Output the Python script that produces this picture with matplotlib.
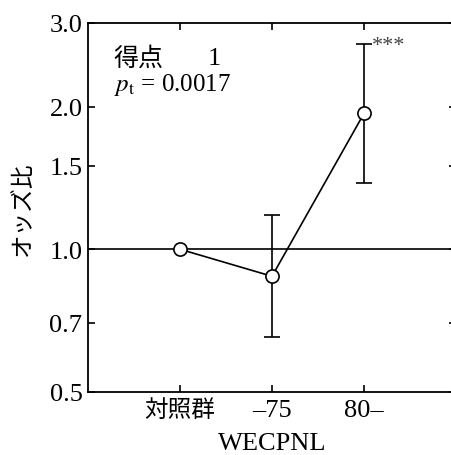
import matplotlib
matplotlib.use("Agg")
import matplotlib.pyplot as plt
import numpy as np

plt.rcParams['font.family'] = ['Liberation Serif', 'Noto Sans CJK JP']
plt.rcParams['mathtext.fontset'] = 'stix'

# data
groups = ['対照群', '–75', '80–']
odds = [1.0, 0.877, 1.934]
ci_low = [1.0, 0.652, 1.38]
ci_high = [1.0, 1.18, 2.71]
y_ticks = [0.5, 0.7, 1.0, 1.5, 2.0, 3.0]
y_ticklabels = ['0.5', '0.7', '1.0', '1.5', '2.0', '3.0']

x = np.arange(len(groups))
odds = np.array(odds)
yerr = np.array([odds - np.array(ci_low), np.array(ci_high) - odds])

fig = plt.figure(figsize=(4.51, 4.56), dpi=100)
ax = fig.add_axes([88 / 451, 63 / 456, 368 / 451, 369 / 456])

ax.axhline(1.0, color='black', lw=1.2, zorder=1)
ax.errorbar(x[1:], odds[1:], yerr=yerr[:, 1:], fmt='none', ecolor='black',
            elinewidth=1.2, capsize=6, capthick=1.2, zorder=2)
ax.plot(x, odds, '-', color='black', lw=1.2, zorder=3)
ax.plot(x, odds, 'o', ms=9.5, mfc='white', mec='black', mew=1.2, zorder=4)

ax.set_yscale('log')
ax.set_ylim(0.5, 3.0)
ax.set_xlim(-1, 3)
ax.set_yticks(y_ticks)
ax.set_yticklabels(y_ticklabels)
ax.yaxis.set_minor_locator(matplotlib.ticker.NullLocator())
ax.set_xticks(x)
ax.set_xticklabels(groups)

ax.tick_params(direction='in', length=5, width=1.2, top=True, right=True,
               labelsize=19, pad=4)
ax.tick_params(axis='x', pad=5)
for lbl in ax.get_xticklabels():
    if lbl.get_text() == '対照群':
        lbl.set_fontsize(17)
for s in ax.spines.values():
    s.set_linewidth(1.3)

ax.set_ylabel('オッズ比', family=['Noto Sans CJK JP'], fontsize=17, labelpad=11)
ax.set_xlabel('WECPNL', fontsize=19, labelpad=8)

ax.text(0.07, 0.905, '得点', transform=ax.transAxes, fontsize=18,
        family=['Noto Sans CJK JP'], va='center')
ax.text(0.325, 0.905, '1', transform=ax.transAxes, fontsize=19, va='center')
ax.text(0.07, 0.835, r'$p_{\mathrm{t}}$ = 0.0017', transform=ax.transAxes,
        fontsize=18, va='center')

ax.annotate('***', xy=(x[2], ci_high[2]), xytext=(5.5, 5.5),
            textcoords='offset points', fontsize=16, color='#444444',
            ha='left', va='top')

fig.savefig('out.png', dpi=100)
